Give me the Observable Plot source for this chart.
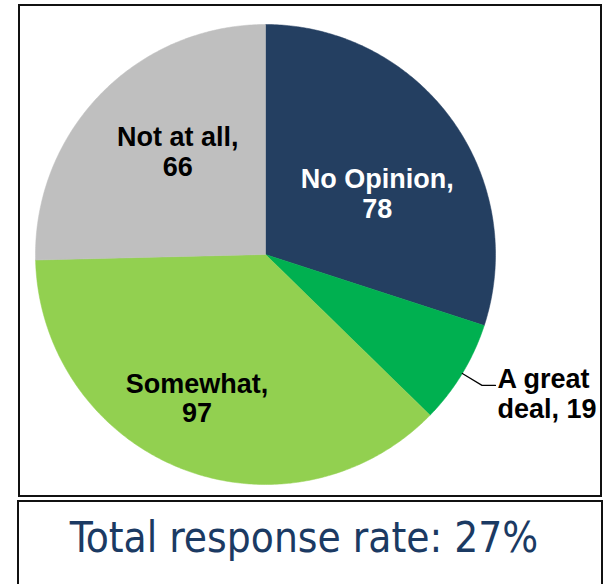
<!DOCTYPE html>
<html>
<head>
<meta charset="utf-8">
<script src="https://cdn.jsdelivr.net/npm/d3@7"></script>
<script src="https://cdn.jsdelivr.net/npm/@observablehq/plot@0.6"></script>
<style>
  html, body { margin: 0; padding: 0; background: #fff; }
  body { width: 608px; height: 584px; position: relative; overflow: hidden; }
  #chartbox { position: absolute; left: 18px; top: 4px; width: 580px; height: 489px; border: 2px solid #111; }
  #chart { position: absolute; left: 0; top: 0; }
  #footbox { position: absolute; left: 17px; top: 500px; width: 582px; height: 100px; border: 2px solid #111; }
  #foot { position: absolute; left: 0; top: 513px; width: 608px; text-align: center;
          font-family: "DejaVu Sans Condensed", "DejaVu Sans", sans-serif; font-size: 42px; color: #1B3A63; }
</style>
</head>
<body>
<div id="chartbox"></div>
<div id="chart"></div>
<div id="footbox"></div>
<div id="foot">Total response rate: 27%</div>
<script>
const categories = ["No Opinion", "A great deal", "Somewhat", "Not at all"];
const values = [78, 19, 97, 66];
const colors = ["#243F61", "#00B050", "#92D050", "#BFBFBF"];
const footText = "Total response rate: 27%";

const labelText = (c, v) => c === "A great deal" ? "A great\ndeal, " + v : c + ",\n" + v;

const arcs = d3.pie().sort(null).value(d => d.value)(categories.map((c, i) => ({cat: c, value: values[i]})));

// slice polygons in unit-circle coordinates (angle 0 at top, clockwise)
const poly = [];
for (const a of arcs) {
  const n = Math.max(2, Math.ceil((a.endAngle - a.startAngle) / 0.01));
  poly.push({cat: a.data.cat, x: 0, y: 0});
  for (let k = 0; k <= n; k++) {
    const t = a.startAngle + (a.endAngle - a.startAngle) * k / n;
    poly.push({cat: a.data.cat, x: Math.sin(t), y: Math.cos(t)});
  }
  poly.push({cat: a.data.cat, x: 0, y: 0});
}

const labelR = 0.6;
const labels = arcs.map(a => {
  const m = (a.startAngle + a.endAngle) / 2;
  return {cat: a.data.cat, text: labelText(a.data.cat, a.data.value), m,
          x: labelR * Math.sin(m), y: labelR * Math.cos(m)};
});

// leader line for the small slice
const small = labels.find(d => d.cat === "A great deal");
const leader = [
  {x: Math.sin(small.m), y: Math.cos(small.m)},
  {x: 1.1 * Math.sin(small.m), y: 1.1 * Math.cos(small.m)},
  {x: 1.0, y: 1.1 * Math.cos(small.m)}
];

const tweak = {
  "No Opinion": {dx: 0, dy: 20, fill: "#fff"},
  "Not at all": {dx: 11, dy: -7, fill: "#000"},
  "Somewhat": {dx: -18, dy: 15, fill: "#000"}
};

const textStyle = {fontSize: 27, fontWeight: "bold", fontFamily: "Liberation Sans, Arial, sans-serif", lineHeight: 1.11, lineAnchor: "middle"};

const marks = [
  Plot.line(poly, {x: "x", y: "y", z: "cat", fill: "cat", stroke: "cat", strokeWidth: 0.5, curve: "linear"}),
  Plot.line(leader, {x: "x", y: "y", stroke: "#000", strokeWidth: 1.2})
];
for (const [cat, t] of Object.entries(tweak)) {
  marks.push(Plot.text(labels.filter(d => d.cat === cat), {x: "x", y: "y", text: "text", fill: t.fill, dx: t.dx, dy: t.dy, ...textStyle}));
}
marks.push(Plot.text([{x: leader[2].x, y: leader[2].y, text: small.text}], {x: "x", y: "y", text: "text", fill: "#000", textAnchor: "start", dx: 2, dy: 8, ...textStyle}));

const chart = Plot.plot({
  width: 608,
  height: 500,
  marginLeft: 35,
  marginRight: 113,
  marginTop: 24,
  marginBottom: 16,
  x: {domain: [-1, 1], axis: null},
  y: {domain: [-1, 1], axis: null},
  color: {domain: categories, range: colors},
  style: {background: "transparent", overflow: "visible"},
  marks
});
document.getElementById("chart").appendChild(chart);
document.getElementById("foot").textContent = footText;
</script>
</body>
</html>
